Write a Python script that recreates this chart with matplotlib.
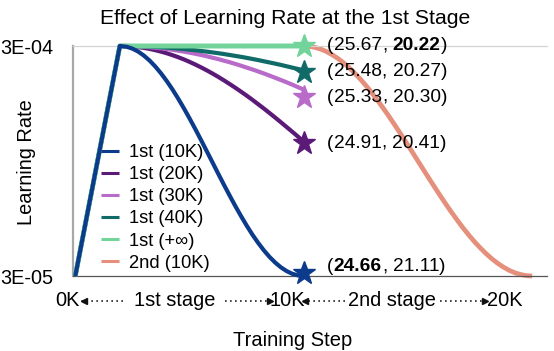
import matplotlib
matplotlib.use('Agg')
import matplotlib.pyplot as plt

plt.rcParams['font.family'] = ['Liberation Sans', 'DejaVu Sans']

# ---- data (learning rate in units of 1e-4, steps in K) ----
steps_1st = [0, 1.95, 2.25, 2.5, 2.75, 3.0, 3.25, 3.5, 3.75, 4.0, 4.25, 4.5, 4.75, 5.0,
             5.25, 5.5, 5.75, 6.0, 6.25, 6.5, 6.75, 7.0, 7.25, 7.5, 7.75, 8.0,
             8.25, 8.5, 8.75, 9.0, 9.25, 9.5, 9.75, 10.0]
lr_10k = [0.30, 3.00, 2.991, 2.969, 2.935, 2.888, 2.830, 2.760, 2.680, 2.590, 2.492, 2.385, 2.271, 2.151,
          2.027, 1.899, 1.768, 1.637, 1.505, 1.375, 1.248, 1.124, 1.006, 0.893, 0.787, 0.691,
          0.603, 0.525, 0.458, 0.402, 0.358, 0.326, 0.307, 0.300]
lr_20k = [0.30, 3.00, 2.998, 2.994, 2.987, 2.978, 2.966, 2.951, 2.934, 2.915, 2.893, 2.869, 2.843, 2.814,
          2.783, 2.750, 2.715, 2.678, 2.639, 2.598, 2.555, 2.511, 2.465, 2.418, 2.369, 2.318,
          2.267, 2.214, 2.160, 2.105, 2.049, 1.993, 1.936, 1.878]
lr_30k = [0.30, 3.00, 2.999, 2.997, 2.995, 2.991, 2.986, 2.980, 2.973, 2.965, 2.955, 2.945, 2.934, 2.922,
          2.909, 2.895, 2.880, 2.863, 2.847, 2.828, 2.810, 2.790, 2.769, 2.747, 2.725, 2.702,
          2.678, 2.653, 2.627, 2.601, 2.574, 2.546, 2.517, 2.488]
lr_40k = [0.30, 3.00, 3.000, 2.999, 2.997, 2.995, 2.992, 2.989, 2.985, 2.981, 2.976, 2.970, 2.964, 2.957,
          2.950, 2.942, 2.934, 2.925, 2.916, 2.906, 2.895, 2.884, 2.873, 2.861, 2.848, 2.835,
          2.821, 2.807, 2.793, 2.778, 2.762, 2.746, 2.730, 2.713]
lr_inf = [0.30] + [3.00] * 33

steps_2nd = [10.0, 10.25, 10.5, 10.75, 11.0, 11.25, 11.5, 11.75, 12.0, 12.25, 12.5, 12.75, 13.0,
             13.25, 13.5, 13.75, 14.0, 14.25, 14.5, 14.75, 15.0, 15.25, 15.5, 15.75, 16.0,
             16.25, 16.5, 16.75, 17.0, 17.25, 17.5, 17.75, 18.0, 18.25, 18.5, 18.75, 19.0,
             19.25, 19.5, 19.75, 20.0]
lr_2nd = [3.000, 2.996, 2.983, 2.963, 2.934, 2.897, 2.853, 2.801, 2.742, 2.676, 2.605, 2.527, 2.444,
          2.355, 2.263, 2.167, 2.067, 1.965, 1.861, 1.756, 1.650, 1.544, 1.439, 1.335, 1.233,
          1.133, 1.037, 0.945, 0.856, 0.773, 0.695, 0.624, 0.558, 0.499, 0.447, 0.403, 0.366,
          0.337, 0.317, 0.304, 0.300]

series_labels = ['1st (10K)', '1st (20K)', '1st (30K)', '1st (40K)', '1st (+∞)', '2nd (10K)']
series_colors = ['#0d3b8c', '#5b1a78', '#b86bc8', '#0f6a68', '#72d49a', '#e5907c']

star_step = 10.0
star_lr = [0.335, 1.86, 2.40, 2.70, 3.00]
# (first value, second value, first bold, second bold)
star_text = [('24.66', '21.11', True, False),
             ('24.91', '20.41', False, False),
             ('25.33', '20.30', False, False),
             ('25.48', '20.27', False, False),
             ('25.67', '20.22', False, True)]
ytick_vals = [0.3, 3.0]
ytick_labels = ['3E-05', '3E-04']

W, H = 554, 351
fig = plt.figure(figsize=(W / 100, H / 100), dpi=100)

def P(x, y):
    return (x / W, 1 - y / H)

ax = fig.add_axes([73 / W, 1 - 276 / H, (547 - 73) / W, (276 - 46) / H])
ax.set_xlim(-0.1, 20.65)
ax.set_ylim(0.3, 3.0)

first_series = [lr_10k, lr_20k, lr_30k, lr_40k, lr_inf]
zs = [6, 2, 3, 4, 5]
lws = [3.0, 3.0, 3.0, 3.0, 3.6]
handles = []
for lr, c, lab, z, lw in zip(first_series, series_colors[:5], series_labels[:5], zs, lws):
    h, = ax.plot(steps_1st, lr, color=c, lw=lw, label=lab, zorder=z,
                 solid_capstyle='butt', solid_joinstyle='round', clip_on=False)
    handles.append(h)
h2, = ax.plot(steps_2nd, lr_2nd, color=series_colors[5], lw=3.4, label=series_labels[5],
              zorder=1, solid_capstyle='butt', clip_on=False)
handles.append(h2)

FS_ANN = 13.8
for i, (v, c, (a, b, ba, bb)) in enumerate(zip(star_lr, series_colors[:5], star_text)):
    ax.plot([star_step], [v], marker='*', ms=17, color=c, mec=c, zorder=10, clip_on=False)
    dy = 4.5 if i == 0 else 0
    t1 = ax.annotate('(', xy=(star_step, v), xytext=(17, dy), textcoords='offset points',
                     va='center', ha='left', fontsize=FS_ANN, zorder=11)
    t2 = ax.annotate(a, xy=(1, 0), xycoords=t1, va='bottom', ha='left', fontsize=FS_ANN,
                     fontweight='bold' if ba else 'normal', zorder=11)
    t3 = ax.annotate(',', xy=(1, 0), xycoords=t2, va='bottom', ha='left', fontsize=FS_ANN, zorder=11)
    t4 = ax.annotate(b, xy=(1, 0), xycoords=t3, xytext=(4, 0), textcoords='offset points',
                     va='bottom', ha='left', fontsize=FS_ANN,
                     fontweight='bold' if bb else 'normal', zorder=11)
    ax.annotate(')', xy=(1, 0), xycoords=t4, va='bottom', ha='left', fontsize=FS_ANN, zorder=11)

# axes styling
ax.spines['right'].set_visible(False)
ax.spines['top'].set_color('#d4d4d4')
ax.spines['top'].set_linewidth(0.9)
ax.spines['left'].set_color('#a8a8a8')
ax.spines['left'].set_linewidth(1.6)
ax.spines['bottom'].set_color('#555555')
ax.spines['bottom'].set_linewidth(0.9)
ax.set_xticks([])
ax.set_yticks(ytick_vals)
ax.set_yticklabels(ytick_labels, fontsize=14.3)
ax.tick_params(axis='y', length=0, pad=14)

# legend
leg = ax.legend(handles=handles, loc='upper left', bbox_to_anchor=P(101, 144),
                bbox_transform=fig.transFigure, frameon=False, borderpad=0, borderaxespad=0,
                handlelength=1.0, handletextpad=0.55, labelspacing=0.28, fontsize=13.2)
for ln in leg.get_lines():
    ln.set_linewidth(2.2)

# title and axis labels
fig.text(*P(285, 18), 'Effect of Learning Rate at the 1st Stage', ha='center', va='center', fontsize=15.2)
fig.text(*P(27, 162), 'Learning Rate', ha='center', va='center', rotation=90, fontsize=14.4)
fig.text(*P(293, 340), 'Training Step', ha='center', va='center', fontsize=14.5)

# x-axis stage labels
yrow = 300
FS_X = 14.4
fig.text(*P(80, yrow), '0K', ha='right', va='center', fontsize=FS_X)
fig.text(*P(175, yrow), '1st stage', ha='center', va='center', fontsize=FS_X)
fig.text(*P(287, yrow), '10K', ha='center', va='center', fontsize=FS_X)
fig.text(*P(392, yrow), '2nd stage', ha='center', va='center', fontsize=FS_X)
fig.text(*P(487, yrow), '20K', ha='left', va='center', fontsize=FS_X)

def darrow(x_tail, x_head, y):
    xs = [P(x_tail, y)[0], P(x_head, y)[0]]
    ys = [P(x_tail, y)[1], P(x_head, y)[1]]
    fig.add_artist(plt.Line2D(xs, ys, transform=fig.transFigure, color='#222222',
                              lw=1.2, linestyle=(0, (1, 2))))
    m = '<' if x_head < x_tail else '>'
    hx = x_head + (2.5 if m == '<' else -2.5)
    fig.add_artist(plt.Line2D([P(hx, y)[0]], [P(hx, y)[1]], transform=fig.transFigure,
                              marker=m, ms=5, color='#111111', lw=0))

darrow(123, 81, yrow + 1)
darrow(225, 272, yrow + 1)
darrow(345, 302, yrow + 1)
darrow(440, 487, yrow + 1)

fig.savefig('out.png', dpi=100)
